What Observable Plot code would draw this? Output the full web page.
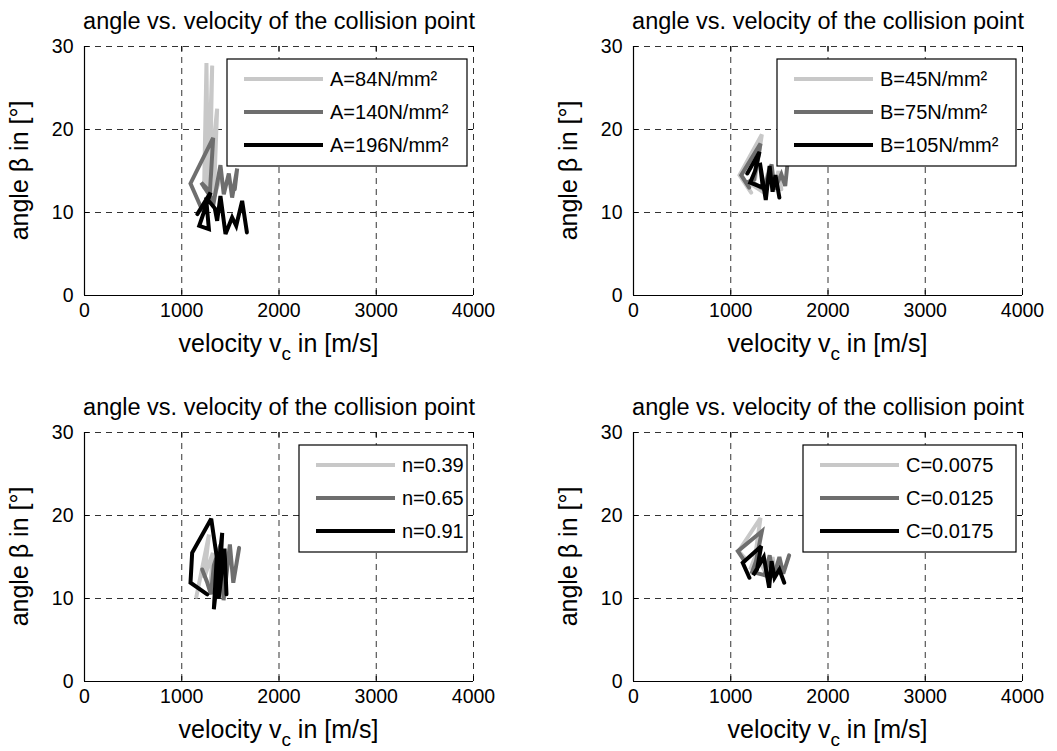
<!DOCTYPE html>
<html><head><meta charset="utf-8">
<script src="https://cdn.jsdelivr.net/npm/d3@7"></script>
<script src="https://cdn.jsdelivr.net/npm/@observablehq/plot@0.6"></script>
<style>
body{margin:0;background:#fff;font-family:"Liberation Sans",Arial,Helvetica,sans-serif;}
#wrap{position:relative;width:1057px;height:751px;overflow:hidden;background:#fff;}
.panel{position:absolute;width:548px;}
.panel svg{max-width:none !important;}
</style></head><body><div id="wrap"></div>
<script>
// ---- shared axes ----
const xTicks = [0, 1000, 2000, 3000, 4000];
const yTicks = [0, 10, 20, 30];
const seriesColors = ["#c8c8c8", "#6e6e6e", "#000000"];
const titleText = "angle vs. velocity of the collision point";
const xLabelMain = "velocity v";
const xLabelSub = "c";
const xLabelTail = " in [m/s]";
const yLabelText = "angle β in [°]";

// ---- panel 1: parameter A ----
const labelsA = ["A=84N/mm²", "A=140N/mm²", "A=196N/mm²"];
const vA84  = [1230, 1254, 1270, 1313, 1290, 1364, 1330, 1385];
const bA84  = [13.0, 28.0, 12.5, 27.7, 14.0, 22.5, 11.8, 13.8];
const vA140 = [1210, 1090, 1323, 1290, 1200, 1330, 1398, 1432, 1484, 1518, 1570, 1545];
const bA140 = [10.3, 13.5, 19.0, 12.5, 13.6, 11.3, 15.7, 12.2, 14.7, 11.8, 15.3, 12.8];
const vA196 = [1160, 1296, 1180, 1279, 1250, 1340, 1364, 1398, 1450, 1518, 1560, 1621, 1670];
const bA196 = [9.8, 12.4, 8.4, 8.0, 11.8, 10.5, 9.0, 12.0, 7.4, 9.4, 8.4, 11.4, 7.6];

// ---- panel 2: parameter B ----
const labelsB = ["B=45N/mm²", "B=75N/mm²", "B=105N/mm²"];
const vB45  = [1210, 1090, 1320, 1250, 1200, 1330, 1400, 1440, 1490, 1520];
const bB45  = [12.4, 14.5, 19.4, 14.0, 13.5, 12.5, 15.5, 12.5, 15.0, 12.8];
const vB75  = [1190, 1108, 1306, 1240, 1200, 1340, 1420, 1450, 1520, 1560, 1580];
const bB75  = [13.0, 14.5, 18.3, 14.0, 13.8, 12.8, 15.8, 12.8, 14.6, 13.2, 15.5];
const vB105 = [1170, 1296, 1250, 1200, 1330, 1300, 1360, 1400, 1430, 1460, 1500];
const bB105 = [14.7, 17.3, 15.0, 13.6, 13.0, 16.0, 11.5, 15.6, 12.5, 14.5, 11.8];

// ---- panel 3: parameter n ----
const labelsN = ["n=0.39", "n=0.65", "n=0.91"];
const vN39 = [1150, 1280, 1230, 1320, 1290, 1380, 1350];
const bN39 = [10.2, 17.7, 12.5, 15.5, 10.8, 14.5, 11.2];
const vN65 = [1210, 1260, 1300, 1330, 1400, 1430, 1495, 1530, 1590];
const bN65 = [13.5, 12.0, 10.5, 14.0, 16.5, 9.8, 16.5, 11.9, 16.1];
const vN91 = [1262, 1090, 1107, 1303, 1360, 1330, 1416, 1380, 1440, 1460];
const bN91 = [10.5, 11.9, 15.5, 19.6, 15.0, 8.7, 17.9, 10.0, 16.0, 10.5];

// ---- panel 4: parameter C ----
const labelsC = ["C=0.0075", "C=0.0125", "C=0.0175"];
const vC75  = [1150, 1080, 1306, 1250, 1200, 1300, 1380, 1430, 1460];
const bC75  = [14.8, 15.7, 19.7, 15.0, 13.5, 14.5, 12.5, 15.0, 12.8];
const vC125 = [1142, 1073, 1320, 1260, 1220, 1350, 1400, 1440, 1500, 1540, 1600];
const bC125 = [14.5, 15.7, 18.1, 14.5, 13.2, 12.8, 15.2, 12.5, 15.0, 13.0, 15.2];
const vC175 = [1192, 1123, 1313, 1270, 1230, 1340, 1395, 1420, 1450, 1500, 1550];
const bC175 = [12.5, 14.3, 16.3, 13.5, 12.8, 15.0, 11.3, 14.5, 12.5, 13.5, 11.9];

const panels = [
  {labels: labelsA, series: [[vA84, bA84], [vA140, bA140], [vA196, bA196]], col: 0, row: 0, boxW: 240},
  {labels: labelsB, series: [[vB45, bB45], [vB75, bB75], [vB105, bB105]], col: 1, row: 0, boxW: 239},
  {labels: labelsN, series: [[vN39, bN39], [vN65, bN65], [vN91, bN91]], col: 0, row: 1, boxW: 168},
  {labels: labelsC, series: [[vC75, bC75], [vC125, bC125], [vC175, bC175]], col: 1, row: 1, boxW: 213}
];

const FONT = "'Liberation Sans', Arial, Helvetica, sans-serif";
const wrap = document.getElementById("wrap");
const grid = {stroke: "#000", strokeOpacity: 0.8, strokeWidth: 1, strokeDasharray: "6,5"};

panels.forEach(p => {
  const rows = p.series.flatMap(([vs, bs], i) => vs.map((v, j) => ({v, b: bs[j], s: p.labels[i]})));
  const H = p.row ? 365 : 386;
  const fig = Plot.plot({
    width: 548, height: H,
    marginLeft: 84, marginRight: 75, marginTop: 46, marginBottom: H - 295,
    x: {domain: [0, 4000], axis: null},
    y: {domain: [0, 30], axis: null},
    color: {domain: p.labels, range: seriesColors},
    style: {fontFamily: FONT, fontSize: "19px", color: "black", background: "white", overflow: "visible"},
    marks: [
      Plot.ruleX(xTicks.slice(1), grid),
      Plot.ruleY(yTicks.slice(1), grid),
      Plot.ruleX(xTicks, {y1: () => 0, y2: () => 0.6, stroke: "#000"}),
      Plot.ruleX(xTicks, {y1: () => 29.4, y2: () => 30, stroke: "#000"}),
      Plot.ruleY(yTicks, {x1: () => 0, x2: () => 50, stroke: "#000"}),
      Plot.ruleY(yTicks, {x1: () => 3950, x2: () => 4000, stroke: "#000"}),
      Plot.ruleX([0], {stroke: "#000", strokeWidth: 1.2}),
      Plot.ruleY([0], {stroke: "#000", strokeWidth: 1.2}),
      Plot.text(xTicks, {x: d => d, frameAnchor: "bottom", dy: 21, text: d => String(d), fontSize: 19.5, fill: "#000"}),
      Plot.text(yTicks, {y: d => d, frameAnchor: "left", dx: -11, textAnchor: "end", text: d => String(d), fontSize: 19.5, fill: "#000"}),
      Plot.line(rows, {x: "v", y: "b", z: "s", stroke: "s", strokeWidth: 4, strokeLinejoin: "miter", strokeMiterlimit: 3}),
      Plot.text([titleText], {text: d => d, frameAnchor: "top", dy: -34, fontSize: 23.5, fill: "#000"})
    ]
  });
  fig.style.maxWidth = "none";
  const div = document.createElement("div");
  div.className = "panel";
  div.style.left = (p.col * 549) + "px";
  div.style.top = (p.row * 386) + "px";
  div.appendChild(fig);
  wrap.appendChild(div);

  const svg = d3.select(fig);
  const fx0 = 84, fx1 = 473, fy0 = 46, fy1 = 295;

  // x label with subscript
  const xl = svg.append("text").attr("x", (fx0 + fx1) / 2).attr("y", fy1 + 57)
    .attr("text-anchor", "middle").attr("font-size", 25).attr("fill", "#000").attr("font-family", FONT);
  xl.append("tspan").text(xLabelMain);
  xl.append("tspan").attr("dy", 8).attr("font-size", 19).text(xLabelSub);
  xl.append("tspan").attr("dy", -8).text(xLabelTail);

  // y label
  svg.append("text").attr("transform", `translate(28,${(fy0 + fy1) / 2}) rotate(-90)`)
    .attr("text-anchor", "middle").attr("font-size", 25).attr("fill", "#000").attr("font-family", FONT)
    .text(yLabelText);

  // legend
  const boxW = p.boxW;
  const bx = fx1 - 6 - boxW, by = fy0 + 13;
  const lg = svg.append("g").attr("font-family", FONT).attr("font-size", 20).attr("text-anchor", "start")
    .attr("transform", `translate(${bx},${by})`);
  lg.append("rect").attr("x", 0).attr("y", 0).attr("width", boxW).attr("height", 107)
    .attr("fill", "#fff").attr("stroke", "#000").attr("stroke-width", 1.2);
  p.labels.forEach((l, i) => {
    lg.append("line").attr("x1", 17).attr("x2", 96).attr("y1", 20 + 33 * i).attr("y2", 20 + 33 * i)
      .attr("stroke", seriesColors[i]).attr("stroke-width", 4);
    lg.append("text").attr("x", 103).attr("y", 20 + 33 * i).attr("dy", "0.35em")
      .attr("text-anchor", "start").attr("fill", "#000").text(l);
  });
});
</script></body></html>
